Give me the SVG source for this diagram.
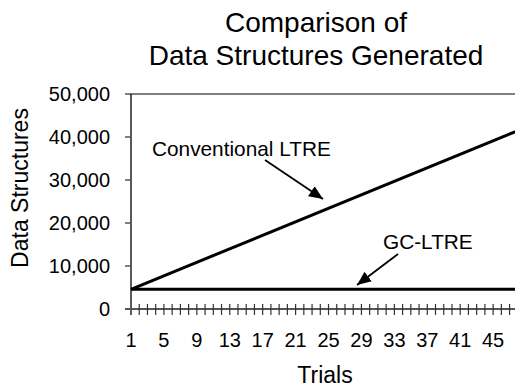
<svg xmlns="http://www.w3.org/2000/svg" width="515" height="389" viewBox="0 0 515 389">
<defs>
<style>
text{font-family:"Liberation Sans",Arial,sans-serif;fill:#000}
.title{font-size:28px;text-anchor:middle}
.axt{font-size:23px;text-anchor:middle}
.yl{font-size:20px;text-anchor:end}
.xl{font-size:20px;text-anchor:middle}
.lbl{font-size:20.8px}
.series{fill:none;stroke:#000;stroke-width:3}
.arrow{fill:none;stroke:#000;stroke-width:1.8}
</style>
<marker id="ah" markerUnits="userSpaceOnUse" markerWidth="16" markerHeight="14" refX="14" refY="6" orient="auto">
<path d="M0,0 L14,6 L0,12 Z" fill="#000"/>
</marker>
</defs>
<rect width="515" height="389" fill="#fff"/>
<g id="title">
<text class="title" x="316" y="32">Comparison of</text>
<text class="title" x="316" y="65">Data Structures Generated</text>
</g>
<g id="y-axis">
<line x1="125" y1="94" x2="515" y2="94" stroke="#808080" stroke-width="2"/>
<line x1="131" y1="94" x2="131" y2="315" stroke="#000" stroke-width="1.3"/>
<path d="M125,137H131M125,180H131M125,223H131M125,266H131" stroke="#555" stroke-width="1.3"/>
<text class="yl" x="110" y="101">50,000</text>
<text class="yl" x="110" y="144">40,000</text>
<text class="yl" x="110" y="187">30,000</text>
<text class="yl" x="110" y="230">20,000</text>
<text class="yl" x="110" y="273">10,000</text>
<text class="yl" x="110" y="316">0</text>
<text class="axt" transform="translate(28,188) rotate(-90)">Data Structures</text>
</g>
<g id="x-axis">
<line x1="125" y1="309" x2="515" y2="309" stroke="#555" stroke-width="1.8"/>
<path d="M139.23,304V315M147.46,304V315M155.69,304V315M163.92,304V315M172.15,304V315M180.38,304V315M188.61,304V315M196.84,304V315M205.07,304V315M213.3,304V315M221.53,304V315M229.76,304V315M237.99,304V315M246.22,304V315M254.45,304V315M262.68,304V315M270.91,304V315M279.14,304V315M287.37,304V315M295.6,304V315M303.83,304V315M312.06,304V315M320.29,304V315M328.52,304V315M336.75,304V315M344.98,304V315M353.21,304V315M361.44,304V315M369.67,304V315M377.9,304V315M386.13,304V315M394.36,304V315M402.59,304V315M410.82,304V315M419.05,304V315M427.28,304V315M435.51,304V315M443.74,304V315M451.97,304V315M460.2,304V315M468.43,304V315M476.66,304V315M484.89,304V315M493.12,304V315M501.35,304V315M509.58,304V315" stroke="#333" stroke-width="1.2"/>
<text class="xl" x="131" y="347">1</text>
<text class="xl" x="163.9" y="347">5</text>
<text class="xl" x="196.8" y="347">9</text>
<text class="xl" x="229.8" y="347">13</text>
<text class="xl" x="262.7" y="347">17</text>
<text class="xl" x="295.6" y="347">21</text>
<text class="xl" x="328.5" y="347">25</text>
<text class="xl" x="361.4" y="347">29</text>
<text class="xl" x="394.4" y="347">33</text>
<text class="xl" x="427.3" y="347">37</text>
<text class="xl" x="460.2" y="347">41</text>
<text class="xl" x="493.1" y="347">45</text>
<text class="axt" x="325" y="383">Trials</text>
</g>
<g id="series-conventional">
<line class="series" x1="131" y1="289.3" x2="517" y2="131"/>
</g>
<g id="series-gc">
<line class="series" x1="131" y1="289.3" x2="517" y2="289.3"/>
</g>
<g id="label-conventional">
<text class="lbl" x="152" y="155.5">Conventional LTRE</text>
</g>
<g id="label-gc">
<text class="lbl" x="383" y="249">GC-LTRE</text>
</g>
<g id="connectors">
<line class="arrow" x1="265" y1="160" x2="323" y2="199" marker-end="url(#ah)"/>
<line class="arrow" x1="398" y1="254" x2="357" y2="285" marker-end="url(#ah)"/>
</g>
</svg>
